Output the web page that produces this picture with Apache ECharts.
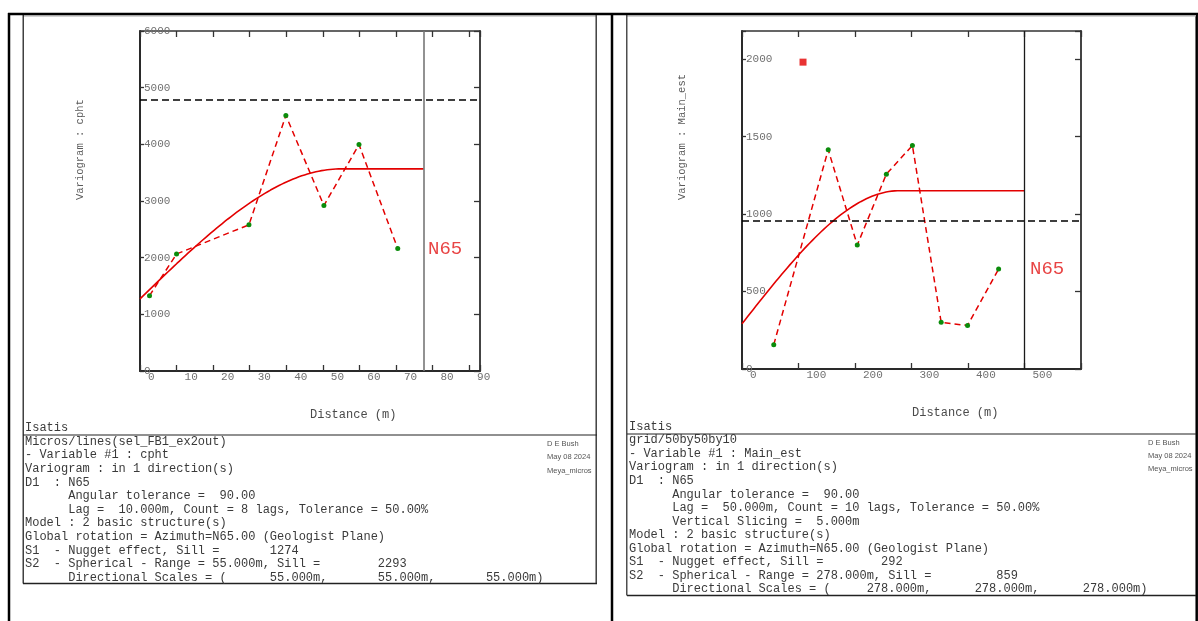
<!DOCTYPE html>
<html>
<head>
<meta charset="utf-8">
<script src="https://cdn.jsdelivr.net/npm/echarts@6/dist/echarts.min.js"></script>
<style>
  html, body { margin: 0; padding: 0; background: #fff; }
  #chart { width: 1198px; height: 621px; }
</style>
</head>
<body>
<div id="chart"></div>
<script>
// ---------- cpht : experimental variogram along N65 (lag 10 m) ----------
const cphtLagDistance = [2.6, 10.0, 29.8, 39.9, 50.3, 59.9, 70.5];
const cphtGamma       = [1330, 2065, 2580, 4510, 2920, 3995, 2160];
const cphtVariance    = [4783];
const cphtNugget      = 1274;
const cphtSill        = 2293;
const cphtRange       = 55;
const cphtModelReach  = 77.6;
const cphtDistTicks   = [0, 10, 20, 30, 40, 50, 60, 70, 80, 90];
const cphtGammaTicks  = [0, 1000, 2000, 3000, 4000, 5000, 6000];
const cphtDistMax     = 93;
const cphtGammaMax    = 6000;

// ---------- Main_est : experimental variogram along N65 (lag 50 m) ----------
const mainLagDistance = [56.2, 152.6, 204.0, 255.5, 301.6, 352.5, 399.2, 454.2];
const mainGamma       = [157, 1415, 800, 1258, 1443, 301, 281, 645];
const mainVariance    = [959];
const mainNugget      = 292;
const mainSill        = 859;
const mainRange       = 278;
const mainModelReach  = 500;
const mainFlagPoint   = [108, 1981];
const mainDistTicks   = [0, 100, 200, 300, 400, 500];
const mainGammaTicks  = [0, 500, 1000, 1500, 2000];
const mainDistMax     = 600;
const mainGammaMax    = 2182;

const MONO = '"Liberation Mono", "DejaVu Sans Mono", monospace';
const RED = '#e30000';
const GREEN = '#0b8c0b';

// nugget + spherical structure
function sphericalCurve(nugget, sill, range, reach) {
  const pts = [];
  const n = 200;
  for (let i = 0; i <= n; i++) {
    const h = reach * i / n;
    const r = Math.min(h / range, 1);
    pts.push([h, nugget + sill * (1.5 * r - 0.5 * r * r * r)]);
  }
  return pts;
}

function zip(xs, ys) { return xs.map((x, i) => [x, ys[i]]); }

function tickFormatter(ticks) {
  return v => (ticks.indexOf(v) >= 0 ? String(v) : '');
}

function axesFor(grid, distMax, distTicks, gammaMax, gammaTicks) {
  const labelBase = { color: '#707070', fontFamily: MONO, fontSize: 11 };
  const x = [
    {
      gridIndex: grid, type: 'value', position: 'bottom',
      min: 0, max: distMax, interval: distTicks[1] - distTicks[0],
      axisLine: { onZero: false, lineStyle: { color: '#2a2a2a', width: 2 } },
      axisTick: { inside: true, length: 6, lineStyle: { color: '#333', width: 1.3 } },
      axisLabel: Object.assign({ formatter: tickFormatter(distTicks), align: 'left',
        padding: [0, 0, 0, 8], margin: 1 }, labelBase),
      splitLine: { show: false }
    },
    {
      gridIndex: grid, type: 'value', position: 'top',
      min: 0, max: distMax, interval: distTicks[1] - distTicks[0],
      axisLine: { onZero: false, lineStyle: { color: '#333', width: 1.5 } },
      axisTick: { inside: true, length: 6, lineStyle: { color: '#333', width: 1.3 } },
      axisLabel: { show: false },
      splitLine: { show: false }
    }
  ];
  const y = [
    {
      gridIndex: grid, type: 'value', position: 'left',
      min: 0, max: gammaMax, interval: gammaTicks[1] - gammaTicks[0],
      axisLine: { onZero: false, lineStyle: { color: '#2a2a2a', width: 2 } },
      axisTick: { inside: true, length: 4, lineStyle: { color: '#333', width: 1.3 } },
      axisLabel: Object.assign({ formatter: tickFormatter(gammaTicks), inside: true, margin: 4 }, labelBase),
      splitLine: { show: false }
    },
    {
      gridIndex: grid, type: 'value', position: 'right',
      min: 0, max: gammaMax, interval: gammaTicks[1] - gammaTicks[0],
      axisLine: { onZero: false, lineStyle: { color: '#444', width: 2 } },
      axisTick: { inside: true, length: 6, lineStyle: { color: '#333', width: 1.3 } },
      axisLabel: { show: false },
      splitLine: { show: false }
    }
  ];
  return { x, y };
}

function seriesFor(axisIdx, dist, gamma, variance, nugget, sill, range, reach, reachColor, reachWidth) {
  return [
    {
      type: 'line', xAxisIndex: axisIdx, yAxisIndex: axisIdx,
      data: sphericalCurve(nugget, sill, range, reach),
      showSymbol: false, smooth: false, z: 2, silent: true,
      lineStyle: { color: RED, width: 1.6 },
      markLine: {
        silent: true, symbol: ['none', 'none'], label: { show: false },
        data: [
          { yAxis: variance[0], lineStyle: { color: '#000', width: 1.6, type: [7, 4] } },
          { xAxis: reach, lineStyle: { color: reachColor, width: reachWidth, type: 'solid' } }
        ]
      }
    },
    {
      type: 'line', xAxisIndex: axisIdx, yAxisIndex: axisIdx,
      data: zip(dist, gamma), z: 3, silent: true,
      symbol: 'circle', symbolSize: 5,
      itemStyle: { color: GREEN },
      lineStyle: { color: RED, width: 1.5, type: [6, 4] }
    }
  ];
}

function reportLines(header, variable, lagLine, extra, nugget, sill, range) {
  const r = range.toFixed(3) + 'm';
  const lines = [
    header,
    '- Variable #1 : ' + variable,
    'Variogram : in 1 direction(s)',
    'D1  : N65',
    '      Angular tolerance =  90.00',
    lagLine
  ].concat(extra).concat([
    'Model : 2 basic structure(s)',
    'Global rotation = Azimuth=N65.00 (Geologist Plane)',
    'S1  - Nugget effect, Sill =' + String(nugget).padStart(11),
    'S2  - Spherical - Range = ' + r + ', Sill =' + String(sill).padStart(12),
    '      Directional Scales = (' + r.padStart(13) + ',' + r.padStart(14) + ',' + r.padStart(14) + ')'
  ]);
  return lines.join('\n');
}

const cphtReport = reportLines('Micros/lines(sel_FB1_ex2out)', 'cpht',
  '      Lag =  10.000m, Count = 8 lags, Tolerance = 50.00%', [],
  cphtNugget, cphtSill, cphtRange);
const mainReport = reportLines('grid/50by50by10', 'Main_est',
  '      Lag =  50.000m, Count = 10 lags, Tolerance = 50.00%', ['      Vertical Slicing =  5.000m'],
  mainNugget, mainSill, mainRange);

const stamp = 'D E Bush\nMay 08 2024\nMeya_micros';

function line(x1, y1, x2, y2, color, width) {
  return { type: 'line', silent: true, shape: { x1, y1, x2, y2 }, style: { stroke: color, lineWidth: width } };
}
function text(x, y, str, font, fill, extra) {
  return Object.assign({ type: 'text', silent: true, x, y,
    style: Object.assign({ text: str, font, fill, align: 'left', verticalAlign: 'middle' }, extra && extra.style || {}) },
    extra && extra.el || {});
}

const left = axesFor(0, cphtDistMax, cphtDistTicks, cphtGammaMax, cphtGammaTicks);
const right = axesFor(1, mainDistMax, mainDistTicks, mainGammaMax, mainGammaTicks);

const graphics = [
  // window frames
  line(8, 14, 1198, 14, '#000', 2.5),
  line(9, 13, 9, 621, '#000', 2.5),
  line(612, 13, 612, 621, '#000', 2.5),
  line(1196.7, 13, 1196.7, 621, '#000', 2.5),
  line(23, 15.8, 596, 15.8, '#a8a8a8', 1.4),
  line(627, 15.8, 1196, 15.8, '#a8a8a8', 1.4),
  line(23.2, 15, 23.2, 583.5, '#111', 1.2),
  line(596.2, 15, 596.2, 583.5, '#333', 1.4),
  line(626.8, 15, 626.8, 595.5, '#222', 1.2),
  // report boxes
  line(23, 435, 597, 435, '#222', 1.2),
  line(23, 583.5, 597, 583.5, '#222', 1.6),
  line(627, 434, 1196, 434, '#222', 1.2),
  line(627, 595.5, 1196, 595.5, '#222', 1.6),
  // axis titles
  text(80, 200, 'Variogram : cpht', '10.5px ' + MONO, '#5a5a5a', { el: { rotation: Math.PI / 2 } }),
  text(682, 200, 'Variogram : Main_est', '10.5px ' + MONO, '#5a5a5a', { el: { rotation: Math.PI / 2 } }),
  text(310, 415, 'Distance (m)', '12px ' + MONO, '#4a4a4a'),
  text(912, 413, 'Distance (m)', '12px ' + MONO, '#4a4a4a'),
  // direction labels
  text(428, 249, 'N65', '19px ' + MONO, '#e84444'),
  text(1030, 269, 'N65', '19px ' + MONO, '#e84444'),
  // reports
  text(25, 428, 'Isatis', '12px ' + MONO, '#3a3a3a'),
  text(629, 427, 'Isatis', '12px ' + MONO, '#3a3a3a'),
  text(25, 434.8, cphtReport, '12px ' + MONO, '#3a3a3a', { style: { verticalAlign: 'top', lineHeight: 13.6 } }),
  text(629, 433.4, mainReport, '12px ' + MONO, '#3a3a3a', { style: { verticalAlign: 'top', lineHeight: 13.55 } }),
  text(547, 437, stamp, '7.5px "Liberation Sans", sans-serif', '#555', { style: { verticalAlign: 'top', lineHeight: 13.6 } }),
  text(1148, 436, stamp, '7.5px "Liberation Sans", sans-serif', '#555', { style: { verticalAlign: 'top', lineHeight: 13.3 } })
];

const chart = echarts.init(document.getElementById('chart'), null, { renderer: 'canvas' });
chart.setOption({
  animation: false,
  backgroundColor: '#fff',
  grid: [
    { left: 140, top: 31, width: 340, height: 340, show: false },
    { left: 742, top: 31, width: 339, height: 338, show: false }
  ],
  xAxis: [left.x[0], left.x[1], right.x[0], right.x[1]],
  yAxis: [left.y[0], left.y[1], right.y[0], right.y[1]],
  series: [
    ...seriesFor(0, cphtLagDistance, cphtGamma, cphtVariance, cphtNugget, cphtSill, cphtRange,
      cphtModelReach, '#777', 1.6),
    ...seriesFor(2, mainLagDistance, mainGamma, mainVariance, mainNugget, mainSill, mainRange,
      mainModelReach, '#1a1a1a', 1.3),
    {
      type: 'scatter', xAxisIndex: 2, yAxisIndex: 2, silent: true, z: 4,
      data: [mainFlagPoint], symbol: 'rect', symbolSize: 7,
      itemStyle: { color: RED }
    }
  ],
  graphic: graphics
});
</script>
</body>
</html>
